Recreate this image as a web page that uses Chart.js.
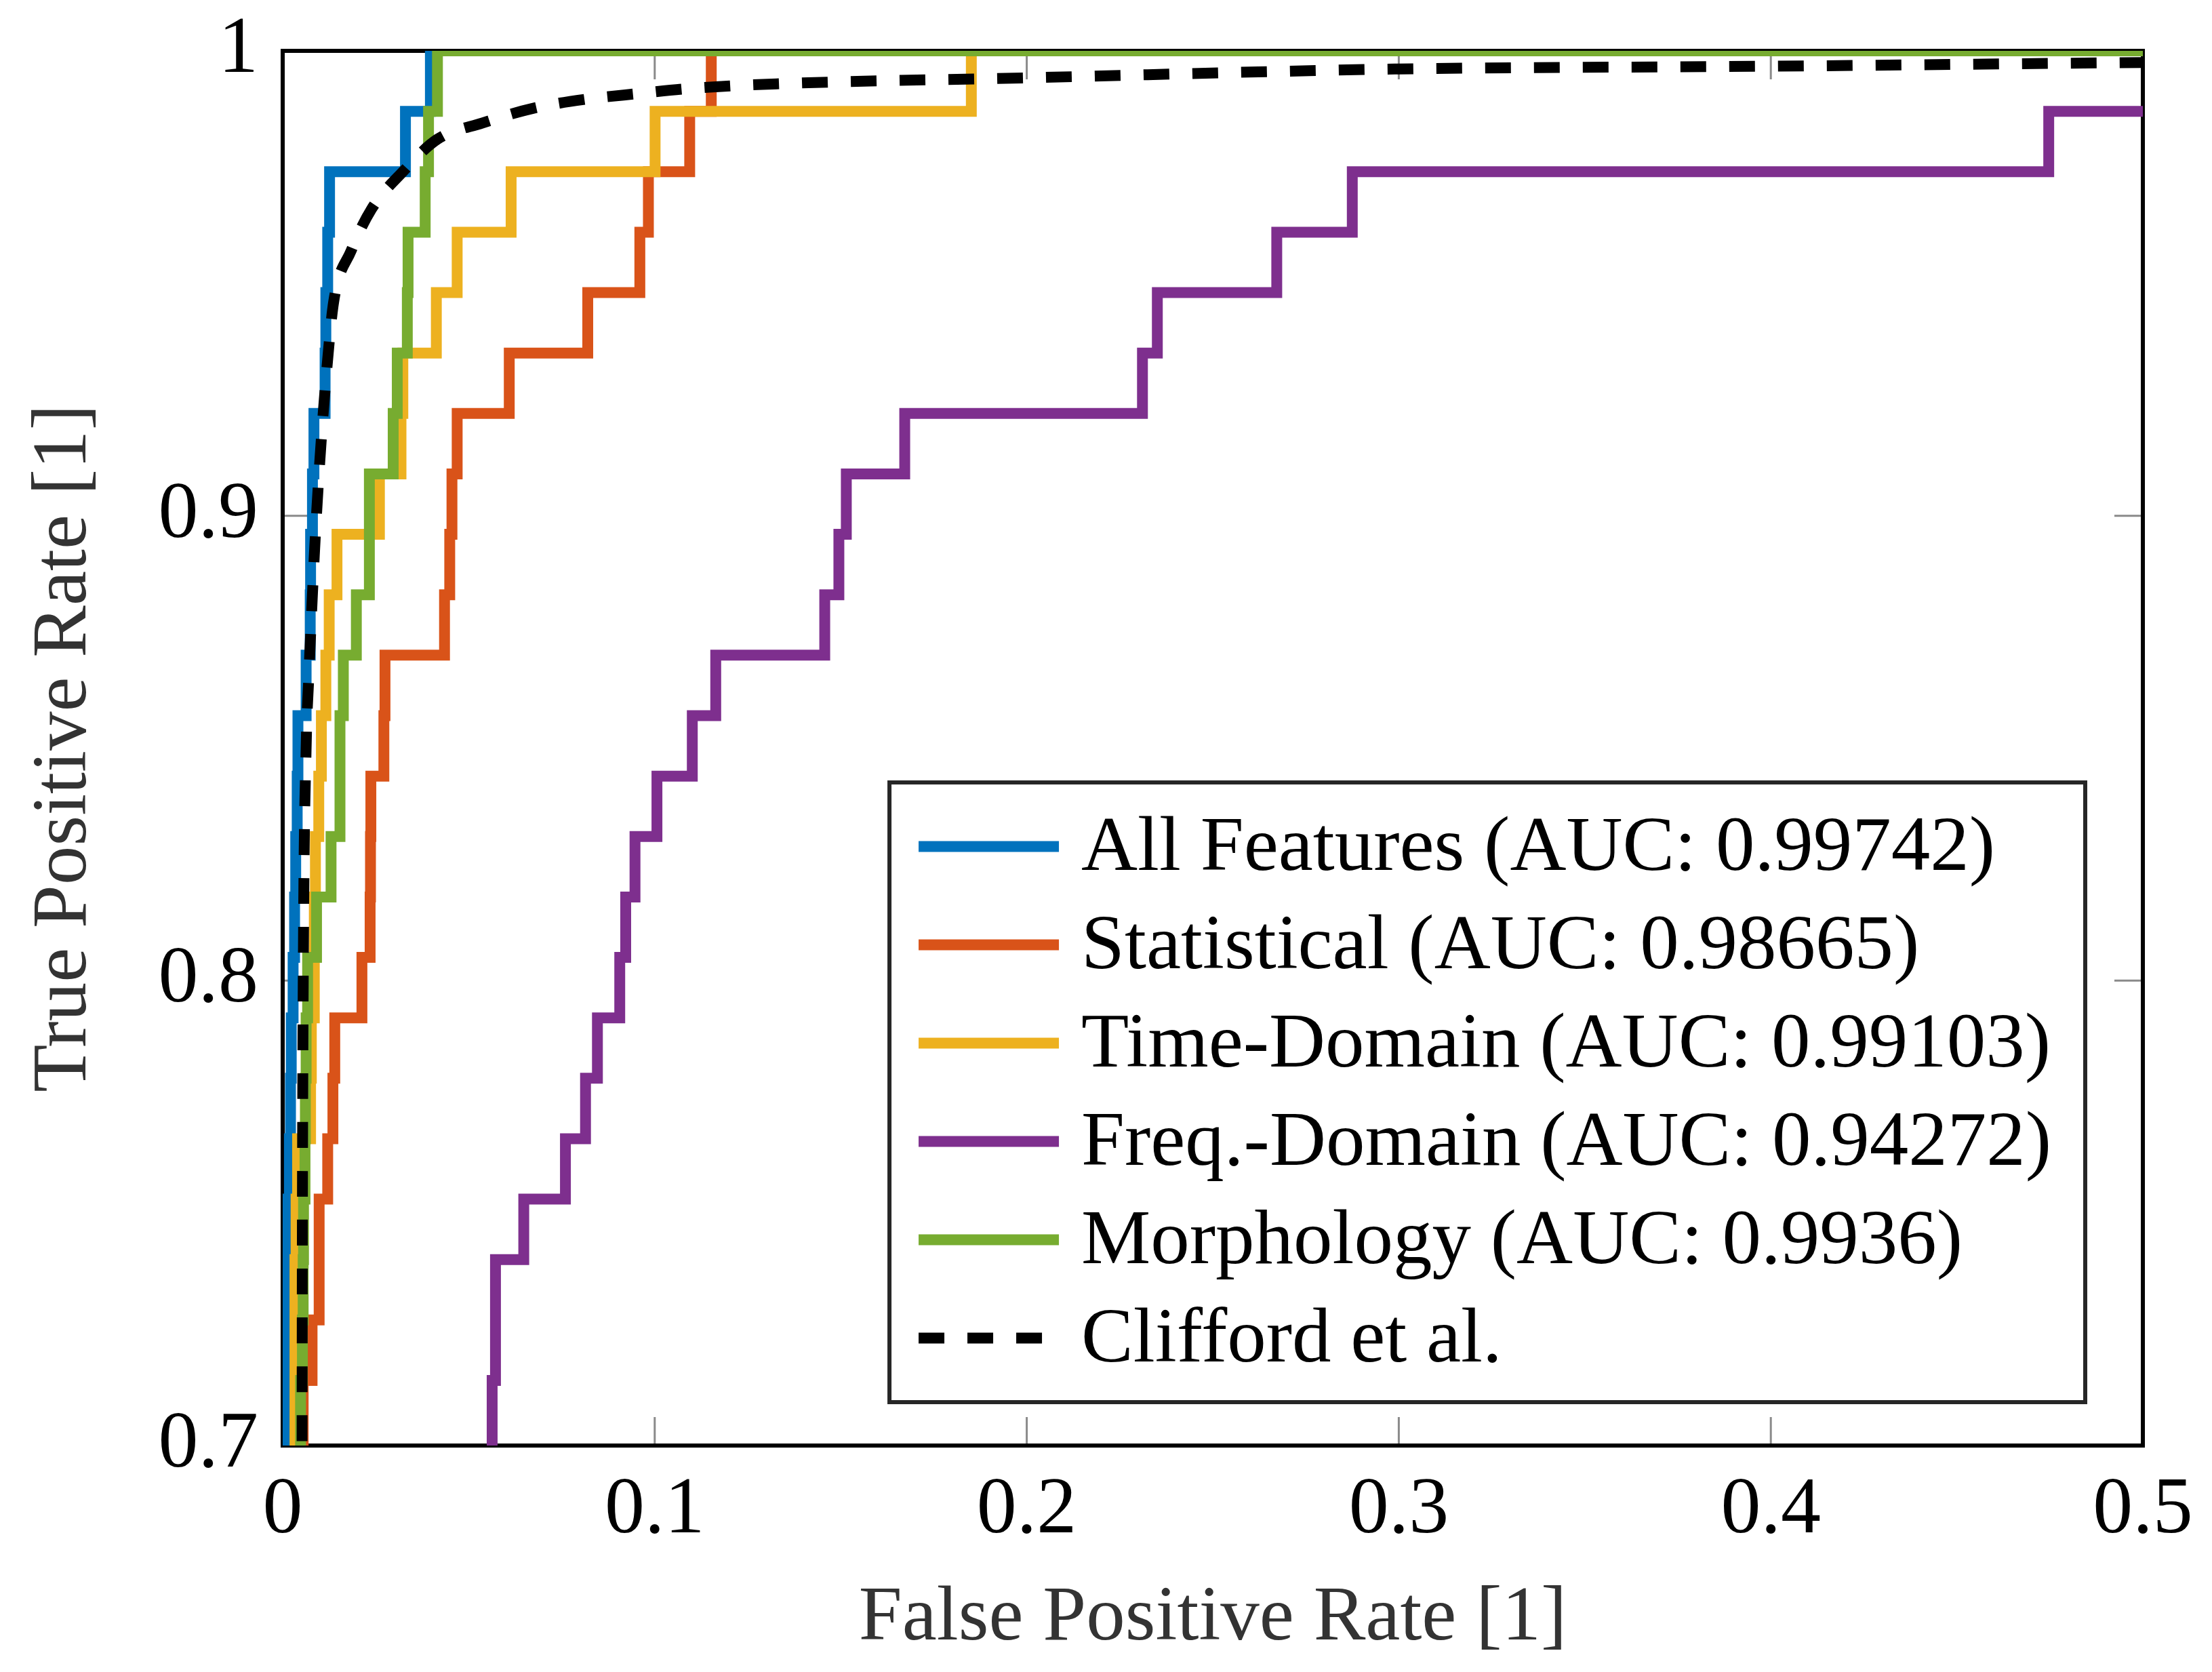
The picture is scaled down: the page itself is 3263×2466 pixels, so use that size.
<!DOCTYPE html>
<html>
<head>
<meta charset="utf-8">
<title>ROC curves</title>
<script src="https://cdn.jsdelivr.net/npm/chart.js@4.4.1/dist/chart.umd.min.js"></script>
<style>
  html, body { margin: 0; padding: 0; background: #fff; overflow: hidden; }
  canvas { display: block; }
</style>
</head>
<body>
<canvas id="roc" width="3263" height="2466"></canvas>
<script>
// ROC curves (FPR 0..0.5, TPR 0.7..1)
// Each step curve: x of each vertical riser and the TPR it climbs to.

const allFpr = [0.0014, 0.0014, 0.0018, 0.0021, 0.0023, 0.0028, 0.0032, 0.0035, 0.0039, 0.0041, 0.0063, 0.0074, 0.0075, 0.0080, 0.0084, 0.0114, 0.0116, 0.0121, 0.0126, 0.0330, 0.0397, 0.5];
const allTpr = [0.68, 0.753, 0.766, 0.779, 0.792, 0.805, 0.818, 0.831, 0.844, 0.857, 0.870, 0.883, 0.896, 0.909, 0.922, 0.935, 0.948, 0.961, 0.974, 0.987, 1.0, 1.0];

const statFpr = [0.0055, 0.0055, 0.0079, 0.0098, 0.0121, 0.0135, 0.0140, 0.0213, 0.0235, 0.0236, 0.0237, 0.0272, 0.0275, 0.0435, 0.0449, 0.0455, 0.0469, 0.0609, 0.0820, 0.0960, 0.0983, 0.1094, 0.1152, 0.5];
const statTpr = [0.68, 0.714, 0.727, 0.753, 0.766, 0.779, 0.792, 0.805, 0.818, 0.831, 0.844, 0.857, 0.870, 0.883, 0.896, 0.909, 0.922, 0.935, 0.948, 0.961, 0.974, 0.987, 1.0, 1.0];

const timeFpr = [0.0033, 0.0033, 0.0036, 0.0040, 0.0075, 0.0077, 0.0085, 0.0085, 0.0088, 0.0097, 0.0104, 0.0116, 0.0125, 0.0146, 0.0260, 0.0318, 0.0323, 0.0413, 0.0469, 0.0614, 0.1001, 0.1851, 0.5];
const timeTpr = [0.68, 0.740, 0.753, 0.766, 0.779, 0.792, 0.805, 0.818, 0.831, 0.844, 0.857, 0.870, 0.883, 0.896, 0.909, 0.922, 0.935, 0.948, 0.961, 0.974, 0.987, 1.0, 1.0];

const freqFpr = [0.0563, 0.0563, 0.0572, 0.0648, 0.0760, 0.0814, 0.0846, 0.0906, 0.0922, 0.0947, 0.1006, 0.1101, 0.1164, 0.1457, 0.1495, 0.1515, 0.1672, 0.2311, 0.2351, 0.2672, 0.2875, 0.4747, 0.5];
const freqTpr = [0.68, 0.714, 0.740, 0.753, 0.766, 0.779, 0.792, 0.805, 0.818, 0.831, 0.844, 0.857, 0.870, 0.883, 0.896, 0.909, 0.922, 0.935, 0.948, 0.961, 0.974, 0.987, 0.987];

const morphFpr = [0.0048, 0.0048, 0.0053, 0.0055, 0.0056, 0.0060, 0.0061, 0.0063, 0.0067, 0.0091, 0.0130, 0.0154, 0.0154, 0.0163, 0.0198, 0.0233, 0.0233, 0.0297, 0.0308, 0.0335, 0.0337, 0.0383, 0.0392, 0.0416, 0.5];
const morphTpr = [0.68, 0.714, 0.727, 0.740, 0.753, 0.766, 0.779, 0.792, 0.805, 0.818, 0.831, 0.844, 0.857, 0.870, 0.883, 0.896, 0.909, 0.922, 0.935, 0.948, 0.961, 0.974, 0.987, 1.0, 1.0];

// Clifford et al. reference curve (smooth, dashed)
const cliffFpr = [0.0050, 0.0052, 0.0053, 0.0056, 0.0063, 0.0070, 0.0086, 0.0100, 0.0118, 0.0137, 0.0184, 0.0239, 0.0323, 0.0416, 0.0537, 0.0676, 0.0816, 0.0955, 0.1094, 0.1327, 0.20, 0.30, 0.40, 0.5];
const cliffTpr = [0.68, 0.70, 0.75, 0.81, 0.85, 0.865, 0.893, 0.912, 0.931, 0.946, 0.957, 0.966, 0.974, 0.981, 0.9845, 0.9877, 0.9896, 0.9908, 0.9919, 0.9929, 0.9942, 0.9961, 0.9967, 0.9975];

const seriesLabels = [
  'All Features (AUC: 0.99742)',
  'Statistical (AUC: 0.98665)',
  'Time-Domain (AUC: 0.99103)',
  'Freq.-Domain (AUC: 0.94272)',
  'Morphology (AUC: 0.9936)',
  'Clifford et al.'
];

const xTicks = [0, 0.1, 0.2, 0.3, 0.4, 0.5];
const xTickLabels = ['0', '0.1', '0.2', '0.3', '0.4', '0.5'];
const yTicks = [0.7, 0.8, 0.9, 1.0];
const yTickLabels = ['0.7', '0.8', '0.9', '1'];

// MATLAB default line colours
const blue   = '#0072BD';
const red    = '#D95319';
const yellow = '#EDB120';
const purple = '#7E2F8E';
const green  = '#77AC30';

const serif = "'Liberation Serif', 'DejaVu Serif', serif";

function pts(xs, ys) {
  return xs.map((x, i) => ({ x: x, y: ys[i] }));
}

function stepSet(label, xs, ys, color, order) {
  return {
    label: label,
    data: pts(xs, ys),
    borderColor: color,
    backgroundColor: color,
    borderWidth: 16,
    stepped: true,
    showLine: true,
    pointRadius: 0,
    clip: 0,
    order: order
  };
}

// Box, inward tick marks on all four sides
const framePlugin = {
  id: 'frame',
  beforeDatasetsDraw(chart) {
    const { ctx, chartArea: a, scales } = chart;
    const len = 42;
    ctx.save();
    ctx.strokeStyle = '#8a8a8a';
    ctx.lineWidth = 3;
    ctx.beginPath();
    xTicks.forEach(v => {
      const px = scales.x.getPixelForValue(v);
      ctx.moveTo(px, a.bottom); ctx.lineTo(px, a.bottom - len);
      ctx.moveTo(px, a.top);    ctx.lineTo(px, a.top + len);
    });
    yTicks.forEach(v => {
      const py = scales.y.getPixelForValue(v);
      ctx.moveTo(a.left, py);  ctx.lineTo(a.left + len, py);
      ctx.moveTo(a.right, py); ctx.lineTo(a.right - len, py);
    });
    ctx.stroke();
    ctx.strokeStyle = '#000';
    ctx.lineWidth = 6;
    ctx.strokeRect(a.left, a.top, a.right - a.left, a.bottom - a.top);
    ctx.restore();
  }
};

// Legend box in the lower right of the axes
const legendPlugin = {
  id: 'boxLegend',
  afterDatasetsDraw(chart) {
    const { ctx, chartArea: a } = chart;
    const rowH = 145;
    const padY = 22;
    ctx.save();
    ctx.font = '115px ' + serif;
    const textW = Math.max(...seriesLabels.map(t => ctx.measureText(t).width));
    const w = 283 + textW + 50;
    const h = seriesLabels.length * rowH + 2 * padY;
    const right = a.right - 85;
    const bottom = a.bottom - 64;
    const left = right - w;
    const top = bottom - h;

    ctx.fillStyle = '#fff';
    ctx.fillRect(left, top, w, h);
    ctx.strokeStyle = '#262626';
    ctx.lineWidth = 6;
    ctx.strokeRect(left, top, w, h);

    ctx.textBaseline = 'middle';
    ctx.textAlign = 'left';
    chart.data.datasets.forEach((ds, i) => {
      const cy = top + padY + rowH * i + rowH / 2;
      ctx.beginPath();
      ctx.lineWidth = ds.borderWidth;
      ctx.strokeStyle = ds.borderColor;
      ctx.lineCap = 'butt';
      ctx.setLineDash(ds.borderDash || []);
      ctx.moveTo(left + 43, cy);
      ctx.lineTo(left + 250, cy);
      ctx.stroke();
      ctx.setLineDash([]);
      ctx.fillStyle = '#000';
      ctx.fillText(ds.label, left + 283, cy + 4);
    });
    ctx.restore();
  }
};

new Chart(document.getElementById('roc'), {
  type: 'scatter',
  data: {
    datasets: [
      stepSet(seriesLabels[0], allFpr, allTpr, blue, 5),
      stepSet(seriesLabels[1], statFpr, statTpr, red, 4),
      stepSet(seriesLabels[2], timeFpr, timeTpr, yellow, 3),
      stepSet(seriesLabels[3], freqFpr, freqTpr, purple, 2),
      stepSet(seriesLabels[4], morphFpr, morphTpr, green, 1),
      {
        label: seriesLabels[5],
        data: pts(cliffFpr, cliffTpr),
        borderColor: '#000',
        backgroundColor: '#000',
        borderWidth: 16,
        borderDash: [38, 34],
        cubicInterpolationMode: 'monotone',
        showLine: true,
        pointRadius: 0,
        clip: 0,
        order: 0
      }
    ]
  },
  options: {
    responsive: false,
    animation: false,
    devicePixelRatio: 1,
    layout: { padding: { top: 75, right: 102, left: 0, bottom: 0 } },
    elements: { line: { borderCapStyle: 'butt', borderJoinStyle: 'miter' } },
    plugins: { legend: { display: false }, tooltip: { enabled: false } },
    scales: {
      x: {
        type: 'linear',
        min: 0,
        max: 0.5,
        afterFit: s => { s.height = 334; s.paddingLeft = 0; s.paddingRight = 0; },
        afterBuildTicks: s => { s.ticks = xTicks.map(v => ({ value: v })); },
        grid: { display: false, drawTicks: false },
        border: { display: false },
        ticks: {
          padding: 26,
          color: '#000',
          maxRotation: 0,
          autoSkip: false,
          font: { family: serif, size: 118 },
          callback: (v, i) => xTickLabels[i]
        },
        title: {
          display: true,
          text: 'False Positive Rate [1]',
          color: '#333',
          font: { family: serif, size: 115 },
          padding: { top: 0, bottom: 9 }
        }
      },
      y: {
        type: 'linear',
        min: 0.7,
        max: 1,
        afterFit: s => { s.width = 417; s.paddingTop = 0; s.paddingBottom = 0; },
        afterBuildTicks: s => { s.ticks = yTicks.map(v => ({ value: v })); },
        grid: { display: false, drawTicks: false },
        border: { display: false },
        ticks: {
          padding: 36,
          color: '#000',
          autoSkip: false,
          font: { family: serif, size: 118 },
          callback: (v, i) => yTickLabels[i]
        },
        title: {
          display: true,
          text: 'True Positive Rate [1]',
          color: '#333',
          font: { family: serif, size: 115 },
          padding: { top: 27, bottom: 0 }
        }
      }
    }
  },
  plugins: [framePlugin, legendPlugin]
});
</script>
</body>
</html>
